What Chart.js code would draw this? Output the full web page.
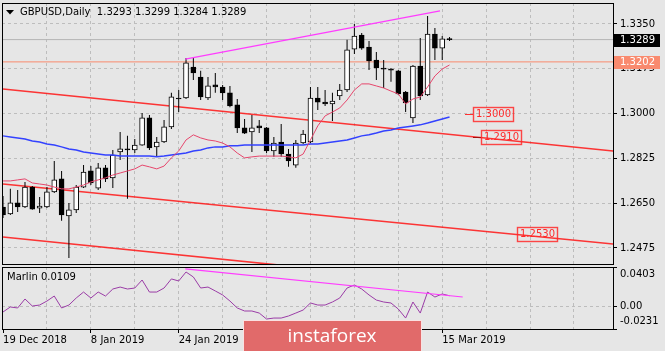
<!DOCTYPE html>
<html>
<head>
<meta charset="utf-8">
<title>GBPUSD Daily</title>
<script src="https://cdn.jsdelivr.net/npm/chart.js"></script>
<style>
  body { margin: 0; background: #e6e6e6; }
  #wrap { position: relative; width: 665px; height: 351px; overflow: hidden; }
  #priceChart { position: absolute; left: 0; top: 0; }
  #marlinChart { position: absolute; left: 0; top: 265px; }
</style>
</head>
<body>
<div id="wrap">
  <canvas id="priceChart" width="665" height="266"></canvas>
  <canvas id="marlinChart" width="665" height="86"></canvas>
</div>
<script>
// symbol and bars
const symbol = 'GBPUSD';
const period = 'Daily';
const dates = [
  '19 Dec 2018','20 Dec 2018','21 Dec 2018','24 Dec 2018','26 Dec 2018','27 Dec 2018','28 Dec 2018','31 Dec 2018',
  '2 Jan 2019','3 Jan 2019','4 Jan 2019','7 Jan 2019','8 Jan 2019','9 Jan 2019','10 Jan 2019','11 Jan 2019',
  '14 Jan 2019','15 Jan 2019','16 Jan 2019','17 Jan 2019','18 Jan 2019','21 Jan 2019','22 Jan 2019','23 Jan 2019',
  '24 Jan 2019','25 Jan 2019','28 Jan 2019','29 Jan 2019','30 Jan 2019','31 Jan 2019','1 Feb 2019','4 Feb 2019',
  '5 Feb 2019','6 Feb 2019','7 Feb 2019','8 Feb 2019','11 Feb 2019','12 Feb 2019','13 Feb 2019','14 Feb 2019',
  '15 Feb 2019','18 Feb 2019','19 Feb 2019','20 Feb 2019','21 Feb 2019','22 Feb 2019','25 Feb 2019','26 Feb 2019',
  '27 Feb 2019','28 Feb 2019','1 Mar 2019','4 Mar 2019','5 Mar 2019','6 Mar 2019','7 Mar 2019','8 Mar 2019',
  '11 Mar 2019','12 Mar 2019','13 Mar 2019','14 Mar 2019','15 Mar 2019','18 Mar 2019'
];
const opens = [
  1.2635,1.2608,1.2651,1.2635,1.2713,1.2631,1.2635,1.2694,1.2745,1.2600,
  1.2624,1.2713,1.2776,1.2709,1.2788,1.2749,1.2850,1.2862,1.2858,1.2877,
  1.2983,1.2870,1.2889,1.2948,1.3061,1.3061,1.3182,1.3143,1.3061,1.3112,
  1.3104,1.3081,1.3034,1.2944,1.2928,1.2952,1.2944,1.2854,1.2889,1.2842,
  1.2799,1.2885,1.2889,1.3061,1.3045,1.3038,1.3069,1.3092,1.3252,1.3307,
  1.3260,1.3209,1.3178,1.3174,1.3167,1.3084,1.2983,1.3186,1.3073,1.3311,
  1.3256,1.3293
];
const highs = [
  1.2678,1.2706,1.2702,1.2733,1.2717,1.2674,1.2713,1.2815,1.2776,1.2651,
  1.2721,1.2799,1.2795,1.2807,1.2799,1.2858,1.2928,1.2913,1.2901,1.3002,
  1.2995,1.2909,1.2975,1.3081,1.3092,1.3217,1.3217,1.3167,1.3143,1.3159,
  1.3112,1.3108,1.3057,1.2979,1.2995,1.2975,1.2948,1.2909,1.2959,1.2862,
  1.2897,1.2936,1.3104,1.3104,1.3092,1.3081,1.3116,1.3288,1.3350,1.3315,
  1.3284,1.3241,1.3209,1.3178,1.3170,1.3088,1.3190,1.3295,1.3381,1.3334,
  1.3303,1.3299
];
const lows = [
  1.2592,1.2604,1.2616,1.2631,1.2624,1.2612,1.2631,1.2690,1.2581,1.2436,
  1.2612,1.2709,1.2721,1.2702,1.2733,1.2709,1.2819,1.2667,1.2846,1.2874,
  1.2858,1.2831,1.2885,1.2940,1.3006,1.3057,1.3131,1.3053,1.3053,1.3081,
  1.3053,1.3025,1.2924,1.2920,1.2850,1.2924,1.2846,1.2831,1.2831,1.2792,
  1.2788,1.2881,1.2885,1.3014,1.3030,1.2971,1.3053,1.3084,1.3233,1.3249,
  1.3170,1.3131,1.3100,1.3124,1.3073,1.3006,1.2963,1.3053,1.3069,1.3209,
  1.3209,1.3284
];
const closes = [
  1.2604,1.2651,1.2635,1.2713,1.2627,1.2639,1.2694,1.2741,1.2604,1.2624,
  1.2713,1.2772,1.2729,1.2788,1.2745,1.2838,1.2862,1.2858,1.2877,1.2983,
  1.2866,1.2889,1.2948,1.3065,1.3057,1.3198,1.3159,1.3065,1.3108,1.3104,
  1.3081,1.3030,1.2944,1.2924,1.2944,1.2944,1.2854,1.2885,1.2842,1.2815,
  1.2885,1.2920,1.3061,1.3045,1.3038,1.3049,1.3092,1.3249,1.3303,1.3256,
  1.3206,1.3178,1.3174,1.3170,1.3077,1.3042,1.3186,1.3069,1.3311,1.3256,
  1.3292,1.3289
];
// moving averages
const maFast = [
  1.2737,1.2737,1.2741,1.2745,1.2729,1.2725,1.2721,1.2713,1.2706,1.2706,
  1.2713,1.2721,1.2733,1.2741,1.2749,1.2760,1.2768,1.2776,1.2784,1.2799,
  1.2792,1.2784,1.2795,1.2827,1.2854,1.2897,1.2917,1.2905,1.2897,1.2893,
  1.2885,1.2870,1.2846,1.2827,1.2831,1.2834,1.2834,1.2834,1.2834,1.2831,
  1.2827,1.2842,1.2897,1.2952,1.2991,1.3006,1.3022,1.3053,1.3092,1.3116,
  1.3116,1.3108,1.3100,1.3088,1.3077,1.3038,1.3057,1.3065,1.3104,1.3147,
  1.3174,1.3190
];
const maSlow = [
  1.2913,1.2909,1.2905,1.2901,1.2893,1.2889,1.2881,1.2877,1.2870,1.2862,
  1.2858,1.2850,1.2846,1.2842,1.2838,1.2838,1.2834,1.2834,1.2834,1.2834,
  1.2834,1.2831,1.2834,1.2838,1.2842,1.2846,1.2854,1.2858,1.2866,1.2870,
  1.2870,1.2874,1.2874,1.2877,1.2877,1.2877,1.2877,1.2877,1.2877,1.2877,
  1.2877,1.2877,1.2881,1.2881,1.2885,1.2889,1.2893,1.2897,1.2905,1.2913,
  1.2917,1.2924,1.2932,1.2936,1.2944,1.2948,1.2952,1.2956,1.2963,1.2971,
  1.2979,1.2987
];
// Marlin oscillator
const marlin = [
  -0.0057,-0.0006,-0.0016,0.0076,0.0004,0.0014,0.0055,0.0106,-0.0016,0.0014,
  0.0086,0.0147,0.0086,0.0147,0.0106,0.0178,0.0198,0.0178,0.0188,0.0270,
  0.0147,0.0147,0.0188,0.0281,0.0260,0.0352,0.0301,0.0188,0.0198,0.0158,
  0.0117,0.0055,-0.0016,-0.0047,-0.0047,-0.0068,-0.0129,-0.0119,-0.0119,-0.0098,
  -0.0068,-0.0037,0.0035,0.0014,0.0014,0.0045,0.0086,0.0188,0.0219,0.0178,
  0.0117,0.0065,0.0045,0.0035,-0.0027,-0.0119,0.0045,-0.0068,0.0147,0.0096,
  0.0127,0.0109
];
// hand drawn objects: [bar index, value]
const trendPrice  = [[24.9, 1.3213], [59.7, 1.3401]];
const trendMarlin = [[24.9, 0.0383], [62.8, 0.0096]];
const channelTop  = [[0, 1.3096], [84, 1.2852]];
const channelMid  = [[0, 1.2725], [84, 1.2489]];
const channelLow  = [[0, 1.2518], [84, 1.2274]];
const markLevels  = [1.3000, 1.2910, 1.2530];
const markBars    = [64.2, 65.3, 70.2];
const supportLevel = 1.3202;

const priceTicks  = [1.2475, 1.2650, 1.2825, 1.3000, 1.3175, 1.3350];
const marlinTicks = [-0.0231, 0, 0.0403];
const gridBars    = [0, 6, 12, 18, 24, 30, 36, 42, 48, 54, 60, 66, 72, 78];

const xMin = -0.14, xMax = 83.33;
const priceMin = 1.24125, priceMax = 1.34320;

const gridColor = '#bdbdbd';
const last = dates.length - 1;

Chart.defaults.font.family = "'DejaVu Sans', sans-serif";
Chart.defaults.font.size = 10;
Chart.defaults.color = '#000';

const series = arr => arr.map((v, i) => ({x: i, y: v}));
const segment = pts => pts.map(p => ({x: p[0], y: p[1]}));
const lineSet = (data, color, width, order) => ({
  type: 'line', data: data, borderColor: color, borderWidth: width,
  pointRadius: 0, fill: false, tension: 0, order: order
});

// frame around the plot, as MT4 draws it
function drawFrame(chart) {
  const a = chart.chartArea, ctx = chart.ctx;
  ctx.save();
  ctx.strokeStyle = '#000';
  ctx.lineWidth = 1;
  ctx.strokeRect(a.left + 0.5, a.top + 0.5, a.right - a.left, a.bottom - a.top);
  ctx.restore();
}

function axisTag(chart, value, text, bg) {
  const ctx = chart.ctx, a = chart.chartArea;
  const y = Math.round(chart.scales.y.getPixelForValue(value));
  ctx.fillStyle = bg;
  ctx.fillRect(a.right + 1, y - 6, 46, 13);
  ctx.fillStyle = '#fff';
  ctx.textAlign = 'left';
  ctx.textBaseline = 'middle';
  ctx.fillText(text, a.right + 7, y + 0.5);
}

const priceDecor = {
  id: 'priceDecor',
  afterDraw(chart) {
    const ctx = chart.ctx;
    const xs = chart.scales.x, ys = chart.scales.y;
    drawFrame(chart);
    ctx.save();
    ctx.font = "10px 'DejaVu Sans'";
    // header
    ctx.fillStyle = '#000';
    ctx.beginPath();
    ctx.moveTo(6, 10); ctx.lineTo(14, 10); ctx.lineTo(10, 14.5); ctx.closePath();
    ctx.fill();
    ctx.textAlign = 'left';
    ctx.textBaseline = 'middle';
    ctx.fillText(symbol + ',' + period + '  ' + opens[last].toFixed(4) + ' ' + highs[last].toFixed(4) + ' ' +
      lows[last].toFixed(4) + ' ' + closes[last].toFixed(4), 20, 12);
    // level labels
    markLevels.forEach((lv, i) => {
      const x = Math.round(xs.getPixelForValue(markBars[i]));
      const y = Math.round(ys.getPixelForValue(lv));
      const t = lv.toFixed(4);
      const w = Math.ceil(ctx.measureText(t).width) + 5;
      if (i < 2) {
        ctx.strokeStyle = i === 0 ? '#ff3030' : '#a01010';
        ctx.lineWidth = 1;
        ctx.beginPath(); ctx.moveTo(x - 8, y + 0.5); ctx.lineTo(x, y + 0.5); ctx.stroke();
      }
      ctx.strokeStyle = 'rgba(255,40,40,0.85)';
      ctx.lineWidth = 1.4;
      ctx.strokeRect(x + 0.5, y - 6.5, w, 14);
      ctx.fillStyle = '#ff2a2a';
      ctx.fillText(t, x + 3, y + 0.5);
    });
    // right axis price tags
    axisTag(chart, closes[last], closes[last].toFixed(4), '#000');
    axisTag(chart, supportLevel, supportLevel.toFixed(4), '#f98a6e');
    ctx.restore();
  }
};

const marlinDecor = {
  id: 'marlinDecor',
  afterDraw(chart) {
    const ctx = chart.ctx;
    drawFrame(chart);
    ctx.save();
    ctx.font = "10px 'DejaVu Sans'";
    ctx.fillStyle = '#000';
    ctx.textAlign = 'left';
    ctx.textBaseline = 'middle';
    ctx.fillText('Marlin ' + marlin[last].toFixed(4), 7, 12);
    // site watermark
    ctx.fillStyle = '#e16a6a';
    ctx.fillRect(243, 55, 179, 31);
    ctx.strokeStyle = 'rgba(255,255,255,0.8)';
    ctx.lineWidth = 1;
    ctx.strokeRect(243.5, 55.5, 178, 32);
    ctx.fillStyle = '#fff';
    ctx.font = "19px 'Open Sans'";
    ctx.textAlign = 'center';
    ctx.textBaseline = 'alphabetic';
    ctx.fillText('instaforex', 332, 77);
    ctx.restore();
  }
};

const xBase = {
  type: 'linear', min: xMin, max: xMax, offset: false,
  afterBuildTicks: s => { s.ticks = gridBars.map(v => ({value: v})); },
  border: {display: false, dash: [3, 3]}
};

new Chart(document.getElementById('priceChart'), {
  type: 'line',
  data: {
    datasets: [
      lineSet(series(maFast), '#e6466c', 1, 0),
      lineSet(series(maSlow), '#3342ff', 1.5, 0),
      lineSet(segment(trendPrice), '#ff3cff', 1.2, 0),
      {
        type: 'bar',
        data: dates.map((d, i) => ({x: i, y: [opens[i], closes[i]]})),
        backgroundColor: dates.map((d, i) => closes[i] >= opens[i] ? '#ffffff' : '#000000'),
        borderColor: '#000', borderWidth: 1, borderSkipped: false,
        barThickness: 5, minBarLength: 1, grouped: false, order: 1
      },
      {
        type: 'bar',
        data: dates.map((d, i) => ({x: i, y: [lows[i], highs[i]]})),
        backgroundColor: '#000', borderWidth: 0, inflateAmount: 0,
        barThickness: 1, grouped: false, order: 2
      },
      lineSet(segment(channelTop), 'rgba(255,20,20,0.85)', 1.6, 3),
      lineSet(segment(channelMid), 'rgba(255,20,20,0.85)', 1.6, 3),
      lineSet(segment(channelLow), 'rgba(255,20,20,0.85)', 1.6, 3),
      lineSet(segment([[xMin, supportLevel], [xMax, supportLevel]]), '#f98a6e', 1, 3),
      lineSet(segment([[xMin, closes[last]], [xMax, closes[last]]]), '#b4b4b4', 1, 4)
    ]
  },
  options: {
    responsive: false,
    animation: false,
    events: [],
    layout: {padding: {left: 2, top: 3, right: 0, bottom: 2}},
    plugins: {legend: {display: false}, tooltip: {enabled: false}},
    scales: {
      x: Object.assign({}, xBase, {
        afterFit: s => { s.height = 0; s.paddingLeft = 0; s.paddingRight = 0; },
        ticks: {display: false},
        grid: {color: c => (c.tick && c.tick.value === 0) ? 'transparent' : gridColor, drawTicks: false, offset: false}
      }),
      y: {
        position: 'right', min: priceMin, max: priceMax,
        afterBuildTicks: s => { s.ticks = priceTicks.map(v => ({value: v})); },
        afterFit: s => { s.width = 52; s.paddingTop = 0; s.paddingBottom = 0; },
        ticks: {padding: 3, autoSkip: false, callback: v => v.toFixed(4)},
        grid: {color: gridColor, tickColor: '#000', tickLength: 4, tickBorderDash: []},
        border: {display: false, dash: [3, 3]}
      }
    }
  },
  plugins: [priceDecor]
});

new Chart(document.getElementById('marlinChart'), {
  type: 'line',
  data: {
    datasets: [
      lineSet(series(marlin), '#9a3ca6', 1, 1),
      lineSet(segment(trendMarlin), '#ff3cff', 1.2, 0)
    ]
  },
  options: {
    responsive: false,
    animation: false,
    events: [],
    layout: {padding: {left: 2, top: 2, right: 0, bottom: 0}},
    plugins: {legend: {display: false}, tooltip: {enabled: false}},
    scales: {
      x: Object.assign({}, xBase, {
        afterFit: s => { s.height = 22; s.paddingLeft = 0; s.paddingRight = 0; },
        ticks: {
          align: 'start', maxRotation: 0, autoSkip: false, padding: 1,
          callback: v => (v % 12 === 0 && dates[v]) ? dates[v] : ''
        },
        grid: {
          color: c => (c.tick && c.tick.value === 0) ? 'transparent' : gridColor,
          tickColor: c => (c.tick && c.tick.value % 12 === 0 && dates[c.tick.value]) ? '#000' : 'transparent',
          tickLength: 4, tickBorderDash: [], offset: false
        }
      }),
      y: {
        position: 'right', min: marlinTicks[0], max: marlinTicks[2],
        afterBuildTicks: s => { s.ticks = marlinTicks.map(v => ({value: v})); },
        afterFit: s => { s.width = 52; s.paddingTop = 0; s.paddingBottom = 0; },
        ticks: {
          padding: 3, autoSkip: false, font: {lineHeight: 1.5},
          // outer labels are pushed inside the pane like MT4 does
          callback: v => v === 0 ? '0.00' : (v > 0 ? ['', v.toFixed(4)] : [v.toFixed(4), ''])
        },
        grid: {color: gridColor, tickColor: '#000', tickLength: 4, tickBorderDash: []},
        border: {display: false, dash: [3, 3]}
      }
    }
  },
  plugins: [marlinDecor]
});
</script>
</body>
</html>
